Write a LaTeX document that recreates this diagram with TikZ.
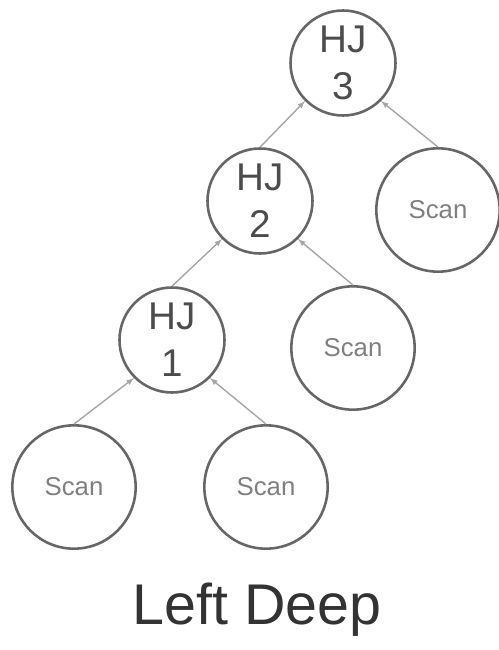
\documentclass[tikz,border=0pt]{standalone}
\usepackage{fontspec}
\setmainfont{Liberation Sans}
\usetikzlibrary{calc}
\tikzset{>=latex}
\tikzset{hjnode/.style={circle, draw=black!60, line width=2.2pt, minimum size=3.15cm, inner sep=0pt, align=center, text=black!70, font=\fontsize{33}{40}\selectfont}}
\tikzset{scannode/.style={circle, draw=black!60, line width=2.2pt, minimum size=3.7cm, inner sep=0pt, text=black!50, font=\fontsize{22}{26}\selectfont}}
\tikzset{feed/.style={->, draw=black!35, line width=1.2pt}}

\begin{document}
\begin{tikzpicture}[x=0.03cm,y=-0.03cm]
      \useasboundingbox (0,0) rectangle (498,650);
      \node[hjnode] (hj3) at (343,63) {HJ\\3};
      \node[hjnode] (hj2) at (260,201) {HJ\\2};
      \node[hjnode] (hj1) at (172,340) {HJ\\1};
      \node[scannode] (s3) at (438,210) {Scan};
      \node[scannode] (s2) at (353,348) {Scan};
      \node[scannode] (s1b) at (266,487) {Scan};
      \node[scannode] (s1a) at (74,487) {Scan};
      \node[text=black!80, font=\fontsize{49}{56}\selectfont] (title) at (257,610) {Left Deep};
      \draw[feed] (hj2.north) -- (hj3.south west);
      \draw[feed] (s3.north) -- (hj3.south east);
      \draw[feed] (hj1.north) -- (hj2.south west);
      \draw[feed] (s2.north) -- (hj2.south east);
      \draw[feed] (s1a.north) -- (hj1.south west);
      \draw[feed] (s1b.north) -- (hj1.south east);
\end{tikzpicture}
\end{document}
